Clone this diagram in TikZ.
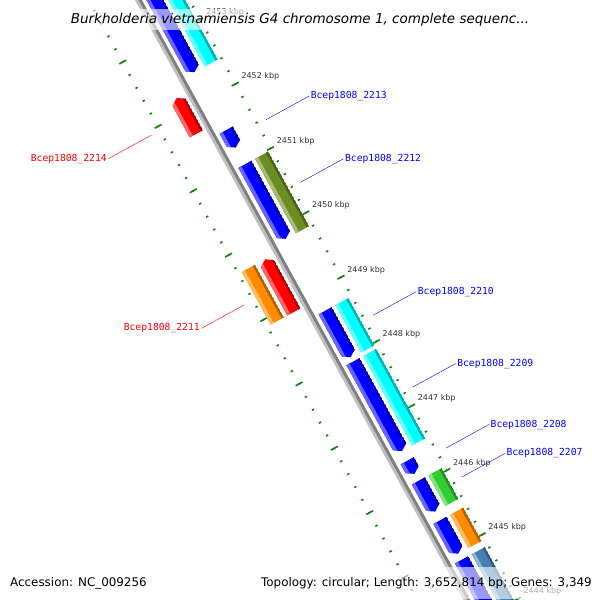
\documentclass[tikz,border=0pt]{standalone}
\usepackage{fontspec}
\setmainfont{DejaVu Sans}
\newfontfamily\genefont{DejaVu Sans Mono}
\definecolor{tickgreen}{RGB}{20,130,20}
\definecolor{genecyan}{RGB}{0,255,255}
\definecolor{geneolive}{RGB}{107,142,35}
\definecolor{geneorange}{RGB}{255,140,0}
\definecolor{genelime}{RGB}{50,205,50}
\definecolor{genesteel}{RGB}{70,130,180}
\definecolor{backgray}{RGB}{128,128,128}

% bar along the backbone: start, end, offset, colour, tip at end, tip at start
\newcommand{\genebar}[6]{%
  \begin{scope}
    \clip ({#1+#6},{#3-7.5}) -- ({#2-#5},{#3-7.5}) -- (#2,#3) -- ({#2-#5},{#3+7.5}) -- ({#1+#6},{#3+7.5}) -- (#1,#3) -- cycle;
    \fill[#4] (#1,{#3-7.5}) rectangle (#2,{#3+7.5});
    \fill[#4!60!white] (#1,{#3-7.5}) rectangle (#2,{#3-4});
    \fill[#4!70!black] (#1,{#3+5}) rectangle (#2,{#3+7.5});
  \end{scope}}

\begin{document}
\begin{tikzpicture}[x=1pt, y=-1pt,
  tick/.style={tickgreen, line width=1.6pt},
  kbp/.style={anchor=south west, inner sep=0pt, text=black!80, font=\fontsize{8}{9}\selectfont},
  fwdlabel/.style={anchor=west, inner sep=1.5pt, text=blue, font=\genefont\fontsize{9.7}{11}\selectfont},
  revlabel/.style={anchor=east, inner sep=1.5pt, text=red, font=\genefont\fontsize{9.7}{11}\selectfont},
  veil/.style={fill=white, fill opacity=0.6, text opacity=1, text=black}]
\useasboundingbox (0,0) rectangle (600,600);
\clip (0,0) rectangle (600,600);
\fill[white] (0,0) rectangle (600,600);

\begin{scope}[shift={(139,0)}, rotate=-61.29, yscale=-1]
% Backbone
\fill[black!25] (-90,-3.5) rectangle (780,-0.5);
\fill[backgray] (-90,-0.5) rectangle (780,2.5);

% Minor ticks every 200 bp, both rings
\foreach \i in {-8,...,46} {
  \draw[tick] ({46.6+\i*14.68},43) -- ({46.6+\i*14.68},45.5);
  \draw[tick] ({46.6+\i*14.68},-43) -- ({46.6+\i*14.68},-45.5);
}
% Major ticks every kbp
\foreach \i in {0,...,9} {
  \pgfmathtruncatemacro\K{2453-\i}
  \draw[tick] ({46.6+\i*73.4},40) -- ({46.6+\i*73.4},48);
  \draw[tick] ({46.6+\i*73.4},-40) -- ({46.6+\i*73.4},-48);
  \node[kbp] (k\K) at ({46.6+\i*73.4},51) {\K\ kbp};
}

% Forward strand top to bottom
\genebar{-90}{90}{14}{blue}{5}{0}
\genebar{-90}{90}{33}{genecyan}{0}{0}
\genebar{156}{176}{14}{blue}{5}{0}
\genebar{195}{280}{14}{blue}{5}{0}
\genebar{195}{280}{33}{geneolive}{0}{0}
\genebar{362}{415}{14}{blue}{5}{0}
\genebar{362}{416}{33}{genecyan}{0}{0}
\genebar{420}{522}{14}{blue}{5}{0}
\genebar{420}{522}{33}{genecyan}{0}{0}
\genebar{533}{548}{14}{blue}{5}{0}
\genebar{556}{591}{14}{blue}{5}{0}
\genebar{556}{591}{33}{genelime}{0}{0}
\genebar{601}{639}{14}{blue}{5}{0}
\genebar{601}{639}{33}{geneorange}{0}{0}
\genebar{646}{780}{14}{blue}{5}{0}
\genebar{646}{780}{33}{genesteel}{0}{0}

% Reverse strand top to bottom
\genebar{104}{145}{-14}{red}{0}{5}
\genebar{288}{348}{-14}{red}{0}{5}
\genebar{288}{348}{-33}{geneorange}{0}{0}

% Labels on the forward side
\coordinate (g2213) at (166,54);
\node[fwdlabel] (n2213) at (166,103) {Bcep1808\_2213};
\draw[blue] (g2213) -- (n2213.west);
\coordinate (g2212) at (237.5,54);
\node[fwdlabel] (n2212) at (237.5,103) {Bcep1808\_2212};
\draw[blue] (g2212) -- (n2212.west);
\coordinate (g2210) at (389,54);
\node[fwdlabel] (n2210) at (389,103) {Bcep1808\_2210};
\draw[blue] (g2210) -- (n2210.west);
\coordinate (g2209) at (471,54);
\node[fwdlabel] (n2209) at (471,103) {Bcep1808\_2209};
\draw[blue] (g2209) -- (n2209.west);
\coordinate (g2208) at (540.5,54);
\node[fwdlabel] (n2208) at (540.5,103) {Bcep1808\_2208};
\draw[blue] (g2208) -- (n2208.west);
\coordinate (g2207) at (573.5,54);
\node[fwdlabel] (n2207) at (573.5,103) {Bcep1808\_2207};
\draw[blue] (g2207) -- (n2207.west);

% Labels on the reverse side
\coordinate (g2214) at (124.5,-54);
\node[revlabel] (n2214) at (124.5,-103) {Bcep1808\_2214};
\draw[red] (g2214) -- (n2214.east);
\coordinate (g2211) at (318,-54);
\node[revlabel] (n2211) at (318,-103) {Bcep1808\_2211};
\draw[red] (g2211) -- (n2211.east);
\end{scope}

% Title and footer
\node[veil, anchor=base, inner xsep=8pt, inner ysep=4pt, font=\fontsize{13.5}{16}\selectfont\itshape] (title) at (300,23) {Burkholderia vietnamiensis G4 chromosome 1, complete sequenc...};
\node[veil, anchor=base west, inner xsep=3pt, inner ysep=10pt, font=\fontsize{11.9}{14}\selectfont] (acc) at (7,586.5) {Accession: NC\_009256};
\node[veil, anchor=base east, inner xsep=3pt, inner ysep=10pt, font=\fontsize{11.9}{14}\selectfont] (topo) at (595,586.5) {Topology: circular; Length: 3,652,814 bp; Genes: 3,349};
\end{tikzpicture}
\end{document}
